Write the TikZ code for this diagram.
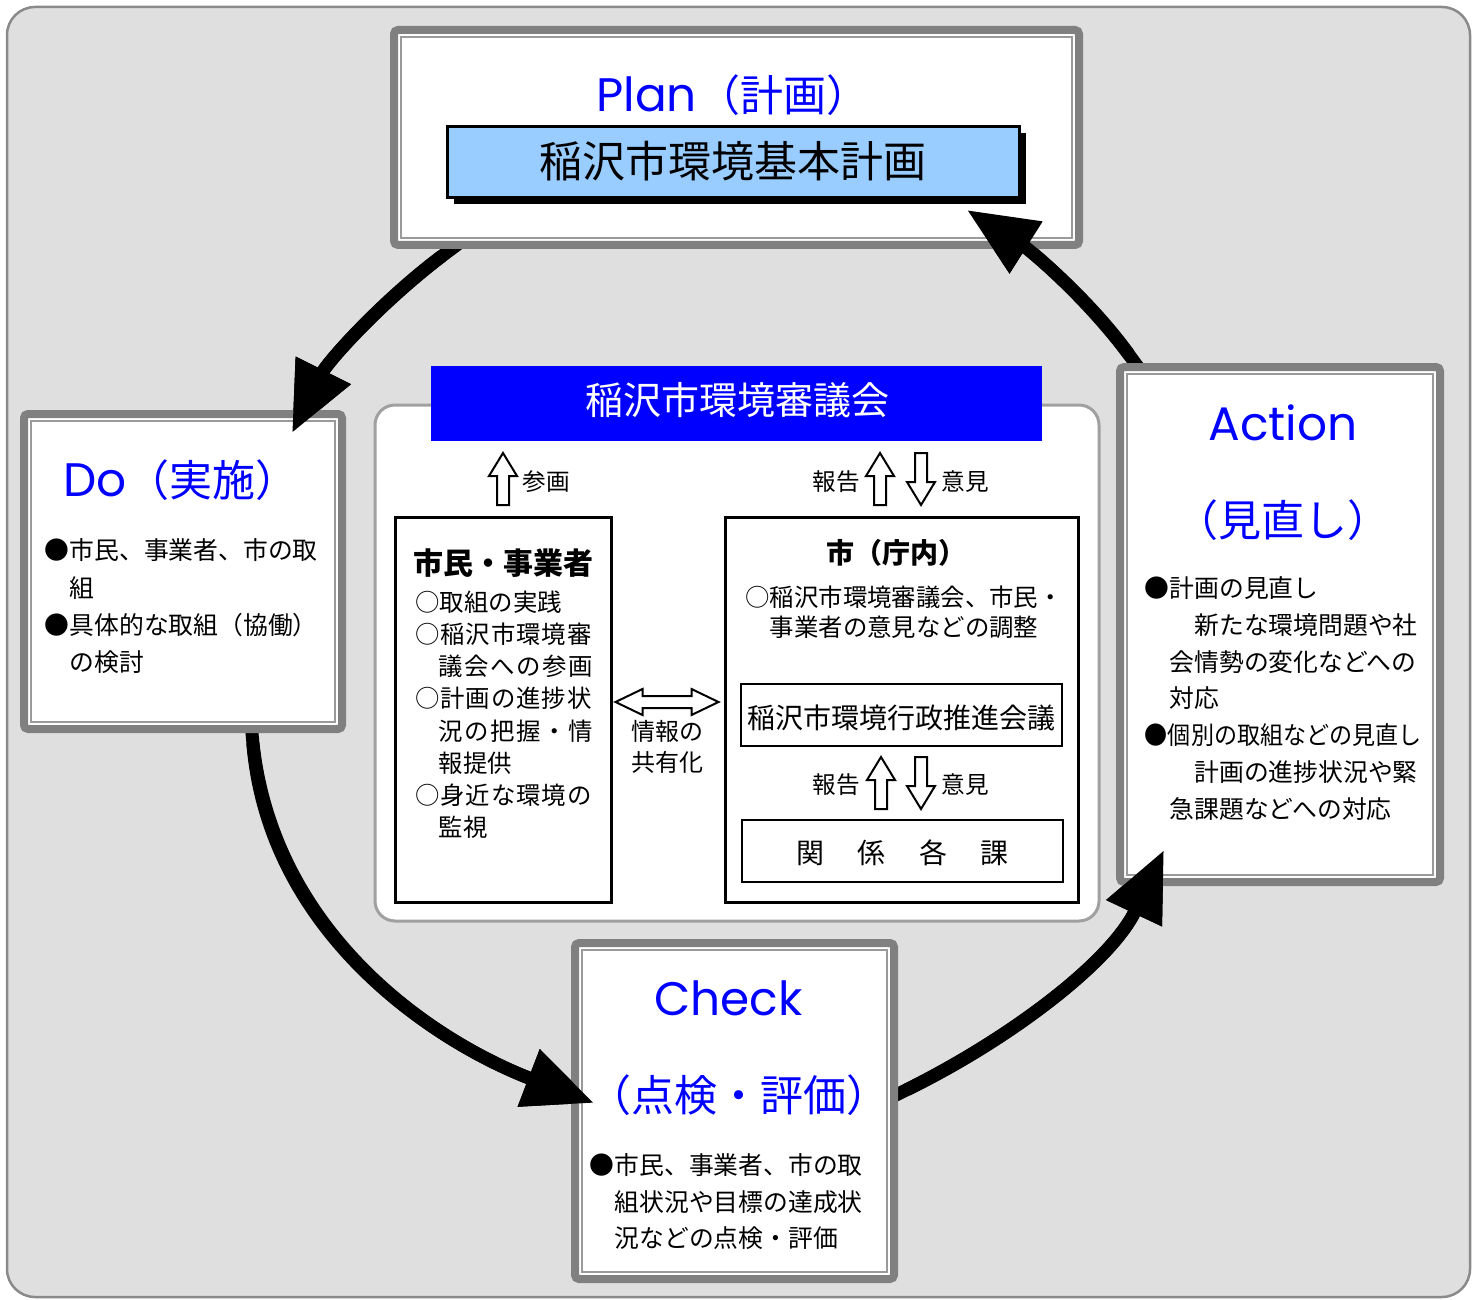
\documentclass[tikz,border=0pt]{standalone}
\usepackage{fontspec}
\usepackage{graphicx}
\setmainfont{Noto Sans CJK JP}
\newfontfamily\latinfont{Poppins}
\usetikzlibrary{arrows.meta,shadows}
\definecolor{bggray}{HTML}{DFDFDF}
\definecolor{bgline}{HTML}{8A8A8A}
\definecolor{frame}{HTML}{808080}
\definecolor{thinline}{HTML}{9A9A9A}
\definecolor{panelline}{HTML}{A0A0A0}
\definecolor{lblue}{HTML}{99CCFF}
\definecolor{pblue}{HTML}{0000FF}
\makeatletter
\def\sprx#1#2{#1\ifx\relax#2\expandafter\@gobble\else\hfill\expandafter\@firstofone\fi{\sprx#2}}
\newcommand\spreadline[2]{\makebox[#1][s]{\sprx#2\relax}}
\makeatother
\newcommand\lat[1]{{\latinfont\fontsize{23.5pt}{28pt}\selectfont #1}}
\begin{document}
\begin{tikzpicture}[x=0.5pt,y=-0.5pt,
  phase/.style={draw=frame, line width=4pt, fill=white, rounded corners=2pt, inner sep=0pt, outer sep=0pt},
  innerline/.style={draw=thinline, line width=1pt},
  phasetitle/.style={text=pblue, font=\fontsize{21.5pt}{26pt}\selectfont, inner sep=0pt, anchor=base},
  body/.style={font=\fontsize{12.4pt}{18.6pt}\selectfont, inner sep=0pt, anchor=north west, align=left},
  blackbox/.style={draw=black, line width=1.5pt, fill=white, inner sep=0pt, outer sep=0pt},
  thinbox/.style={draw=black, line width=1pt, fill=white, inner sep=0pt, outer sep=0pt},
  hollow/.style={draw=black, line width=1pt, fill=white, line join=miter},
  lbl/.style={font=\fontsize{11.8pt}{14pt}\selectfont, inner sep=0pt, anchor=base west},
  bigarrow/.style={line width=6.5pt, -{Triangle[length=35pt,width=29pt]}},
  uparr/.pic={\draw[hollow] (0,-26) -- (14,-3) -- (6,-3) -- (6,26) -- (-6,26) -- (-6,-3) -- (-14,-3) -- cycle;},
  lrarr/.pic={\draw[hollow] (-51.5,0) -- (-24.5,-13) -- (-24.5,-6) -- (24.5,-6) -- (24.5,-13) -- (51.5,0) -- (24.5,13) -- (24.5,6) -- (-24.5,6) -- (-24.5,13) -- cycle;}
]
\useasboundingbox (0,0) rectangle (1478,1300);
% background
\draw[draw=bgline, line width=1.25pt, fill=bggray, rounded corners=14pt] (7,7) rectangle (1470,1297);

% coordinates of the cycle arrows
\coordinate (pd-in) at (466,238);  \coordinate (pd-s) at (450,250);  \coordinate (pd-e) at (292,433);
\coordinate (dc-in) at (251,713);  \coordinate (dc-s) at (252,733);  \coordinate (dc-e) at (594,1103);
\coordinate (ca-in) at (880,1103); \coordinate (ca-s) at (898,1094); \coordinate (ca-e) at (1164,850);
\coordinate (ap-in) at (1147,379); \coordinate (ap-s) at (1135,363); \coordinate (ap-e) at (967,210);

% first pass of the cycle arrows (under the boxes)
\draw[bigarrow] (pd-in) -- (pd-s) .. controls (384,299) and (328,361) .. (pd-e);
\draw[bigarrow] (dc-in) -- (dc-s) .. controls (268,930) and (430,1040) .. (dc-e);
\draw[bigarrow] (ca-in) -- (ca-s) .. controls (1009,1040) and (1111,962) .. (ca-e);
\draw[bigarrow] (ap-in) -- (ap-s) .. controls (1090,300) and (1030,250) .. (ap-e);

% phase boxes
\node[phase, minimum width=342.5pt, minimum height=107.5pt] (plan) at (736.5,137.5) {};
\node[phase, minimum width=159pt, minimum height=157.5pt] (do) at (183,571.5) {};
\node[phase, minimum width=160pt, minimum height=257.5pt] (action) at (1280,624.5) {};
\node[phase, minimum width=159.5pt, minimum height=168pt] (check) at (734.5,1111) {};
\foreach \b in {plan,do,action,check}
  \draw[innerline] ([shift={(7,7)}]\b.north west) rectangle ([shift={(-7,-7)}]\b.south east);

% second pass of the cycle arrows (heads on top)
\draw[bigarrow, shorten <=5pt] (pd-s) .. controls (384,299) and (328,361) .. (pd-e);
\draw[bigarrow, shorten <=5pt] (dc-s) .. controls (268,930) and (430,1040) .. (dc-e);
\draw[bigarrow, shorten <=5pt] (ca-s) .. controls (1009,1040) and (1111,962) .. (ca-e);
\draw[bigarrow, shorten <=5pt] (ap-s) .. controls (1090,300) and (1030,250) .. (ap-e);

% Plan
\node[phasetitle, anchor=base west] (plantitle) at (596,112) {\lat{Plan}（計画）};
\node[draw=black, line width=1.5pt, fill=lblue, inner sep=0pt, outer sep=0pt,
      minimum width=286pt, minimum height=35.5pt,
      general shadow={fill=black, shadow xshift=3pt, shadow yshift=-3.5pt}] (pbox) at (733.5,162) {};
\node[inner sep=0pt, anchor=base, font=\fontsize{21.5pt}{25pt}\selectfont] (ptext) at (733,178) {稲沢市環境基本計画};

% Do
\node[phasetitle, anchor=base west] (dotitle) at (63,496) {\lat{Do}（実施）};
\node[body] (dotext) at (44.5,537.6) {\rule{0pt}{0.88em}●市民、事業者、市の取\\\hspace*{1em}組\\●具体的な取組（協働）\\\hspace*{1em}の検討};

% Action
\node[phasetitle] (actitle) at (1283,440) {\lat{Action}};
\node[phasetitle] (actitle2) at (1283,536) {（見直し）};
\node[body, font=\fontsize{12.4pt}{18.35pt}\selectfont] (actext) at (1144.5,575.6) {\rule{0pt}{0.88em}●計画の見直し\\\hspace*{2em}新たな環境問題や社\\\hspace*{1em}会情勢の変化などへの\\\hspace*{1em}対応\\\scalebox{0.93}[1]{●個別の取組などの見直し}\\\hspace*{2em}計画の進捗状況や緊\\\hspace*{1em}急課題などへの対応};

% Check
\node[phasetitle] (chtitle) at (728.5,1015) {\lat{Check}};
\node[phasetitle] (chtitle2) at (739,1111) {（点検・評価）};
\node[body, font=\fontsize{12.4pt}{18.25pt}\selectfont] (chtext) at (589.5,1152.6) {\rule{0pt}{0.88em}●市民、事業者、市の取\\\hspace*{1em}組状況や目標の達成状\\\hspace*{1em}況などの点検・評価};

% central panel
\node[draw=panelline, line width=1.5pt, fill=white, rounded corners=10pt, inner sep=0pt, outer sep=0pt,
      minimum width=362pt, minimum height=258pt] (panel) at (737,663) {};
\node[fill=pblue, inner sep=0pt, outer sep=0pt, minimum width=305.5pt, minimum height=37.5pt] (banner) at (736.5,403.5) {};
\node[inner sep=0pt, anchor=base, text=white, font=\fontsize{19pt}{22pt}\selectfont] (bannertext) at (737,415) {稲沢市環境審議会};

% citizens box
\node[blackbox, minimum width=108pt, minimum height=192.5pt] (citizen) at (503.5,710) {};
\node[inner sep=0pt, anchor=base, font=\fontsize{15pt}{18pt}\selectfont\bfseries] (citizentitle) at (503,574.4) {市民・事業者};
\node[body, font=\fontsize{12.2pt}{16.05pt}\selectfont] (citizentext) at (415,589.8) {\rule{0pt}{0.88em}○取組の実践\\
\spreadline{88pt}{○稲沢市環境審}\\
\hspace*{11.75pt}\spreadline{77pt}{議会への参画}\\
\spreadline{88pt}{○計画の進捗状}\\
\hspace*{11.75pt}\spreadline{77pt}{況の把握・情}\\
\hspace*{11.75pt}報提供\\
\spreadline{88pt}{○身近な環境の}\\
\hspace*{11.75pt}監視};

% city box
\node[blackbox, minimum width=176.5pt, minimum height=192.5pt] (city) at (902,710) {};
\node[inner sep=0pt, anchor=base west, font=\fontsize{14pt}{17pt}\selectfont\bfseries] (citytitle) at (826,563.6) {市（庁内）};
\node[body, font=\fontsize{12.2pt}{15pt}\selectfont] (citytext) at (745,584.8) {\rule{0pt}{0.88em}○稲沢市環境審議会、市民・\\\hspace*{1em}事業者の意見などの調整};
\node[thinbox, minimum width=160.5pt, minimum height=31pt] (council) at (901.5,715) {};
\node[inner sep=0pt, anchor=base, font=\fontsize{14pt}{17pt}\selectfont] (counciltext) at (901.5,728.6) {稲沢市環境行政推進会議};
\node[thinbox, minimum width=160.5pt, minimum height=31pt] (sections) at (902.5,851) {};
\node[inner sep=0pt, anchor=base west, font=\fontsize{14pt}{17pt}\selectfont] (sectionstext) at (796,863.6) {\makebox[106pt][s]{関\hfill 係\hfill 各\hfill 課}};

% hollow arrows and labels
\pic at (503,479) {uparr};
\node[lbl] (l1) at (522,490) {参画};
\pic at (880,479) {uparr};
\pic[rotate=180] at (921,479) {uparr};
\node[lbl] (l2) at (812,490) {報告};
\node[lbl] (l3) at (941,490) {意見};
\pic at (881,783) {uparr};
\pic[rotate=180] at (921,783) {uparr};
\node[lbl] (l4) at (812,793) {報告};
\node[lbl] (l5) at (941,793) {意見};
\pic at (667,702) {lrarr};
\node[inner sep=0pt, anchor=north, align=center, font=\fontsize{12pt}{15.5pt}\selectfont] (share) at (667,719) {\rule{0pt}{0.88em}情報の\\共有化};
\end{tikzpicture}
\end{document}
